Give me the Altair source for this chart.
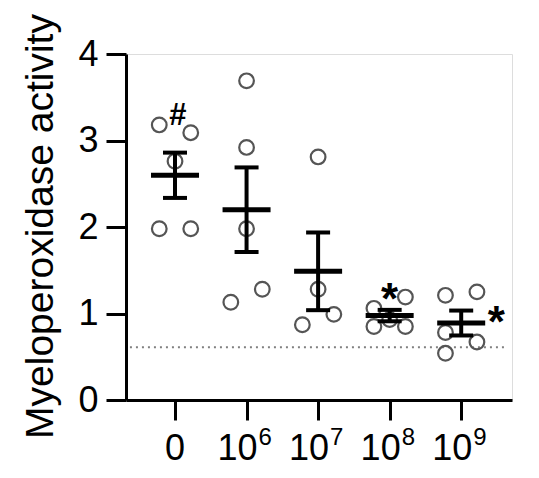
import altair as alt
import pandas as pd

# ---- data ----
group_base = ["0", "10", "10", "10", "10"]
group_exp = ["", "6", "7", "8", "9"]
vals_0 = [3.18, 3.09, 2.76, 1.98, 1.98]
slot_0 = [-1, 1, 0, -1, 1]
vals_6 = [3.69, 2.92, 1.98, 1.13, 1.28]
slot_6 = [0, 0, 0, -1, 1]
vals_7 = [2.81, 1.28, 0.87, 0.99]
slot_7 = [0, 0, -1, 1]
vals_8 = [1.06, 1.19, 0.85, 0.85, 0.93]
slot_8 = [-1, 1, -1, 1, 0]
vals_9 = [1.21, 1.25, 0.78, 0.67, 0.54]
slot_9 = [-1, 1, -1, 1, -1]
baseline = 0.61
hash_x = [0.04]
hash_y = [3.18]
star_x = [3.0, 4.49]
star_y = [1.0, 0.73]
y_ticks = [0, 1, 2, 3, 4]

rows = []
for gi, (vs, ss) in enumerate([(vals_0, slot_0), (vals_6, slot_6), (vals_7, slot_7),
                                (vals_8, slot_8), (vals_9, slot_9)]):
    for v, s in zip(vs, ss):
        rows.append({"g": gi, "slot": s, "value": v})
df = pd.DataFrame(rows)
hash_df = pd.DataFrame({"x": hash_x, "y": hash_y, "t": ["#"] * len(hash_x)})
star_df = pd.DataFrame({"x": star_x, "y": star_y, "t": ["*"] * len(star_x)})
base_df = pd.DataFrame({"y": [baseline]})
lab_df = pd.DataFrame({"g": list(range(len(group_base))), "base": group_base, "exp": group_exp,
                       "single": [e == "" for e in group_exp]})

FONT = "Liberation Sans"

xscale = alt.Scale(domain=[-0.685, 4.71], nice=False, zero=False)
yscale = alt.Scale(domain=[0, 4], nice=False)

xaxis = alt.Axis(values=[0, 1, 2, 3, 4], labels=False, title=None, grid=False,
                 domainColor="black", domainWidth=3, tickColor="black", tickWidth=3,
                 tickSize=20)
yaxis = alt.Axis(values=y_ticks, format="d", title="Myeloperoxidase activity", grid=False,
                 domainColor="black", domainWidth=3, tickColor="black", tickWidth=3,
                 tickSize=20, labelFont=FONT, labelFontSize=36, labelColor="black",
                 labelPadding=8, titleFont=FONT, titleFontSize=39, titleFontWeight="normal",
                 titleColor="black", titleX=-66, titleY=172)

points = alt.Chart(df).transform_calculate(
    xpos="datum.g + datum.slot * 0.22"
).mark_point(shape="circle", filled=False, size=215, strokeWidth=2.2, color="#555555",
             opacity=1).encode(
    x=alt.X("xpos:Q", scale=xscale, axis=xaxis),
    y=alt.Y("value:Q", scale=yscale, axis=yaxis),
)

agg = alt.Chart(df).transform_aggregate(
    m="mean(value)", se="stderr(value)", groupby=["g"]
).transform_calculate(lo="datum.m - datum.se", hi="datum.m + datum.se")

mean_tick = agg.mark_tick(orient="horizontal", size=48, thickness=5, color="black",
                          opacity=1).encode(
    x=alt.X("g:Q", scale=xscale), y=alt.Y("m:Q", scale=yscale))
vline = agg.mark_rule(strokeWidth=4, color="black").encode(
    x=alt.X("g:Q", scale=xscale), y=alt.Y("lo:Q", scale=yscale), y2="hi:Q")
cap_lo = agg.mark_tick(orient="horizontal", size=24, thickness=4, color="black",
                       opacity=1).encode(
    x=alt.X("g:Q", scale=xscale), y=alt.Y("lo:Q", scale=yscale))
cap_hi = agg.mark_tick(orient="horizontal", size=24, thickness=4, color="black",
                       opacity=1).encode(
    x=alt.X("g:Q", scale=xscale), y=alt.Y("hi:Q", scale=yscale))

dotted = alt.Chart(base_df).mark_rule(strokeDash=[2, 4], strokeWidth=2, color="#808080").encode(
    y=alt.Y("y:Q", scale=yscale), x=alt.datum(-0.63), x2=alt.datum(4.62))

hash_txt = alt.Chart(hash_df).mark_text(font=FONT, fontSize=31, fontWeight="bold",
                                        color="black", baseline="alphabetic").encode(
    x=alt.X("x:Q", scale=xscale), y=alt.Y("y:Q", scale=yscale), text="t:N")
star_txt = alt.Chart(star_df).mark_text(font=FONT, fontSize=44, fontWeight="bold",
                                        color="black", baseline="alphabetic").encode(
    x=alt.X("x:Q", scale=xscale), y=alt.Y("y:Q", scale=yscale), text="t:N")

# x tick labels: base text and raised exponent
lab_single = alt.Chart(lab_df).transform_filter("datum.single").mark_text(
    font=FONT, fontSize=36, color="black", baseline="alphabetic", align="center").encode(
    x=alt.X("g:Q", scale=xscale), y=alt.value(406), text="base:N")
lab_base = alt.Chart(lab_df).transform_filter("!datum.single").mark_text(
    font=FONT, fontSize=36, color="black", baseline="alphabetic", align="right", dx=11).encode(
    x=alt.X("g:Q", scale=xscale), y=alt.value(406), text="base:N")
lab_exp = alt.Chart(lab_df).transform_filter("!datum.single").mark_text(
    font=FONT, fontSize=24, color="black", baseline="alphabetic", align="left", dx=12).encode(
    x=alt.X("g:Q", scale=xscale), y=alt.value(391), text="exp:N")

chart = alt.layer(dotted, points, vline, cap_lo, cap_hi, mean_tick, hash_txt, star_txt,
                  lab_single, lab_base, lab_exp).properties(
    width=386, height=346,
    autosize=alt.AutoSizeParams(type="none"),
    padding={"left": 118, "top": 46, "right": 19, "bottom": 70},
).configure_view(stroke=None).configure(background="white")

chart.save("out.html", embed_options={"renderer": "svg", "actions": False})
